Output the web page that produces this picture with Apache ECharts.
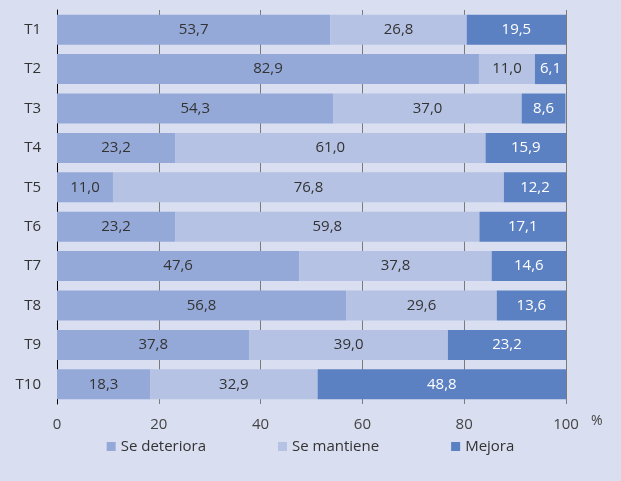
<!DOCTYPE html>
<html><head><meta charset="utf-8">
<script src="https://cdn.jsdelivr.net/npm/echarts@6/dist/echarts.min.js"></script>
<style>html,body{margin:0;padding:0;background:#D9DEF0;}#c{width:621px;height:481px;}</style>
</head><body><div id="c"></div>
<script>
const categories = ['T1','T2','T3','T4','T5','T6','T7','T8','T9','T10'];
const seDeteriora = [53.7, 82.9, 54.3, 23.2, 11.0, 23.2, 47.6, 56.8, 37.8, 18.3];
const seMantiene  = [26.8, 11.0, 37.0, 61.0, 76.8, 59.8, 37.8, 29.6, 39.0, 32.9];
const mejora      = [19.5, 6.1, 8.6, 15.9, 12.2, 17.1, 14.6, 13.6, 23.2, 48.8];
const xTicks = [0, 20, 40, 60, 80, 100];

const font = '"Open Sans", Lato, sans-serif';
const fmt = p => p.value.toFixed(1).replace('.', ',');
function mk(name, data, color, labelColor) {
  return {
    name, type: 'bar', stack: 'total', data, barWidth: 30,
    itemStyle: { color },
    label: { show: true, position: 'inside', formatter: fmt, color: labelColor, fontFamily: font, fontSize: 15 }
  };
}
const chart = echarts.init(document.getElementById('c'));
chart.setOption({
  backgroundColor: '#D9DEF0',
  animation: false,
  grid: { left: 57, right: 55, top: 10, bottom: 77, containLabel: false },
  legend: {
    bottom: 22, left: 'center', itemGap: 72, icon: 'rect', itemWidth: 9, itemHeight: 9,
    textStyle: { fontFamily: font, fontSize: 15, color: '#333' },
    data: ['Se deteriora', 'Se mantiene', 'Mejora']
  },
  xAxis: {
    type: 'value', min: 0, max: 100, interval: 20,
    axisLine: { show: false }, axisTick: { show: false },
    splitLine: { show: true, lineStyle: { color: '#7a7a7a', width: 1 } },
    axisLabel: { fontFamily: font, fontSize: 15, color: '#444', margin: 13,
      formatter: v => xTicks.includes(v) ? String(v) : '' }
  },
  yAxis: {
    type: 'category', data: categories, inverse: true,
    axisLine: { show: true, lineStyle: { color: '#000', width: 1 } },
    axisTick: { show: false },
    axisLabel: { fontFamily: font, fontSize: 15, color: '#333', margin: 16 }
  },
  graphic: [{ type: 'text', left: 591, top: 414, style: { text: '%', font: '14px ' + font, fill: '#444' } }],
  series: [
    mk('Se deteriora', seDeteriora, '#95A9D8', '#333'),
    mk('Se mantiene', seMantiene, '#B5C2E3', '#333'),
    mk('Mejora', mejora, '#5B81C2', '#fff')
  ]
});
</script></body></html>
